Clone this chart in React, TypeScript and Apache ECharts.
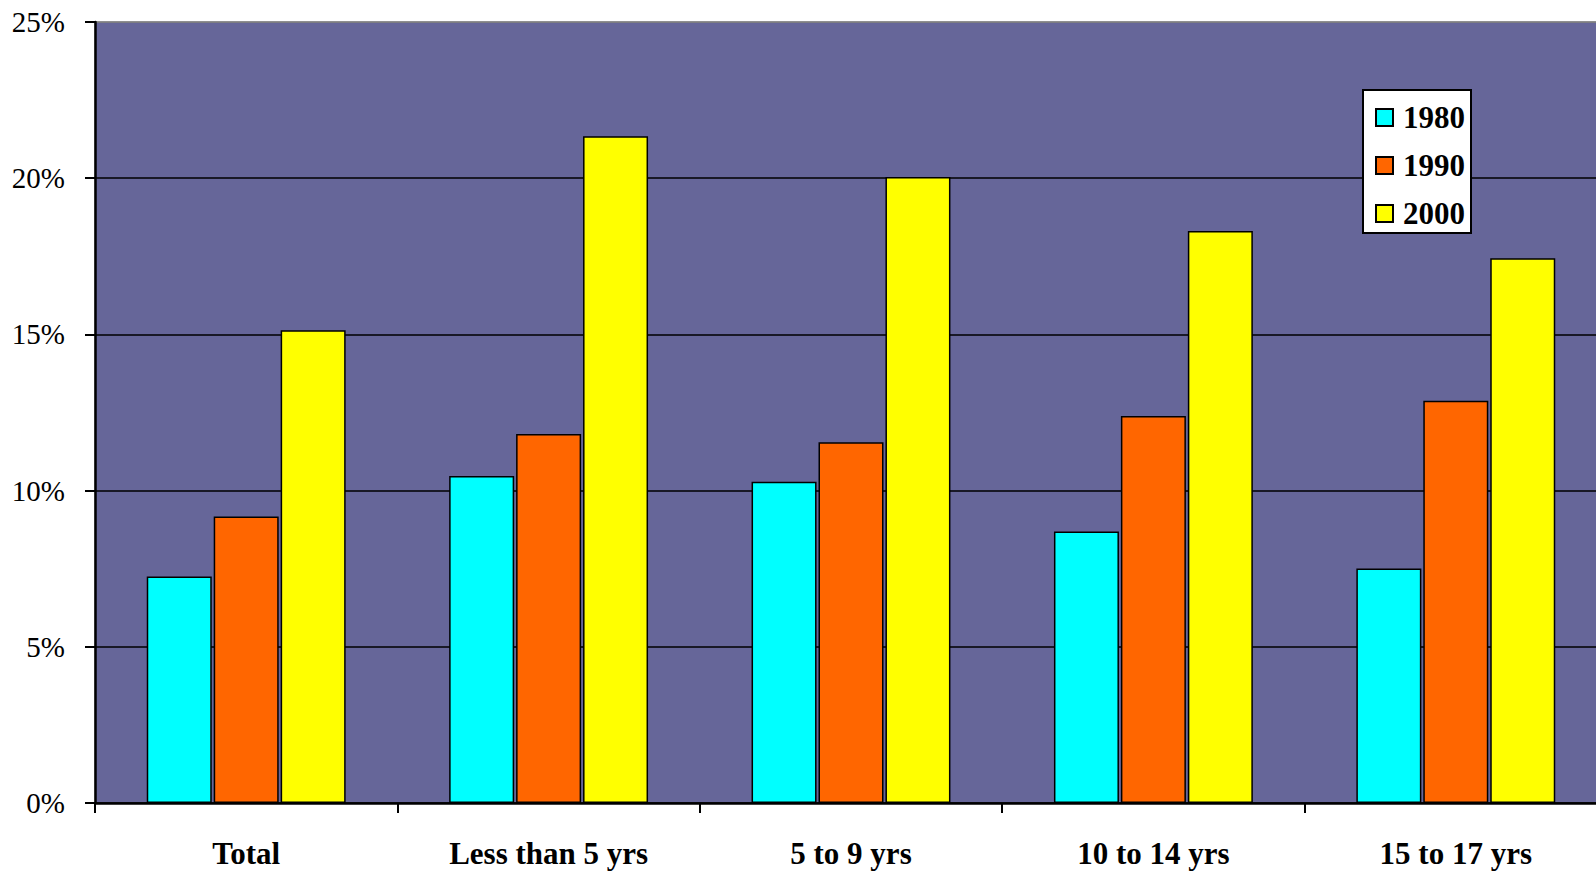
import React, { useEffect, useRef } from "react";
import * as echarts from "echarts";

const categories = ["Total", "Less than 5 yrs", "5 to 9 yrs", "10 to 14 yrs", "15 to 17 yrs"];
const values1980 = [7.25, 10.47, 10.28, 8.69, 7.51];
const values1990 = [9.17, 11.81, 11.55, 12.39, 12.88];
const values2000 = [15.13, 21.34, 20.04, 18.31, 17.44];
const seriesNames = ["1980", "1990", "2000"];
const seriesColors = ["#00FFFF", "#FF6600", "#FFFF00"];

const FONT = "'Liberation Serif', 'Times New Roman', serif";

export default function App() {
  const ref = useRef<HTMLDivElement>(null);
  useEffect(() => {
    if (!ref.current) return;
    const chart = echarts.init(ref.current, undefined, { renderer: "svg" });
    const data = [values1980, values1990, values2000];
    chart.setOption({
      animation: false,
      backgroundColor: "#ffffff",
      textStyle: { fontFamily: FONT },
      grid: {
        left: 95,
        top: 22,
        right: 0,
        bottom: 70,
        show: true,
        backgroundColor: "#666699",
        borderColor: "#808080",
        borderWidth: 1,
      },
      legend: {
        orient: "vertical",
        left: 1363,
        top: 90,
        backgroundColor: "#ffffff",
        borderColor: "#000000",
        borderWidth: 2,
        borderRadius: 0,
        padding: [12, 6, 4, 12],
        itemWidth: 17,
        itemHeight: 17,
        itemGap: 17,
        icon: "rect",
        textStyle: { fontFamily: FONT, fontSize: 31, fontWeight: "bold", color: "#000", padding: [0, 0, 0, 5] },
        data: seriesNames,
      },
      xAxis: {
        type: "category",
        data: categories,
        axisLine: { lineStyle: { color: "#000", width: 2.5 } },
        axisTick: { show: true, length: 10, lineStyle: { color: "#000", width: 2 } },
        axisLabel: { fontFamily: FONT, fontSize: 31, fontWeight: "bold", color: "#000", margin: 35 },
        splitLine: { show: false },
      },
      yAxis: {
        type: "value",
        min: 0,
        max: 25,
        interval: 5,
        axisLine: { show: true, lineStyle: { color: "#000", width: 2.5 } },
        axisTick: { show: true, length: 10, lineStyle: { color: "#000", width: 2 } },
        axisLabel: { fontFamily: FONT, fontSize: 29, color: "#000", margin: 30, formatter: "{value}%" },
        splitLine: {
          show: true,
          lineStyle: { color: ["#000", "#000", "#000", "#000", "#000", "#808080"], width: 1.5 },
        },
      },
      series: seriesNames.map((name, i) => ({
        name,
        type: "bar",
        data: data[i],
        barWidth: 65,
        barGap: "3%",
        itemStyle: { color: seriesColors[i], borderColor: "#000", borderWidth: 1.5 },
      })),
    });
    return () => chart.dispose();
  }, []);
  return (
    <div
      ref={ref}
      style={{ position: "fixed", left: 0, top: 0, width: 1607, height: 873 }}
    />
  );
}
